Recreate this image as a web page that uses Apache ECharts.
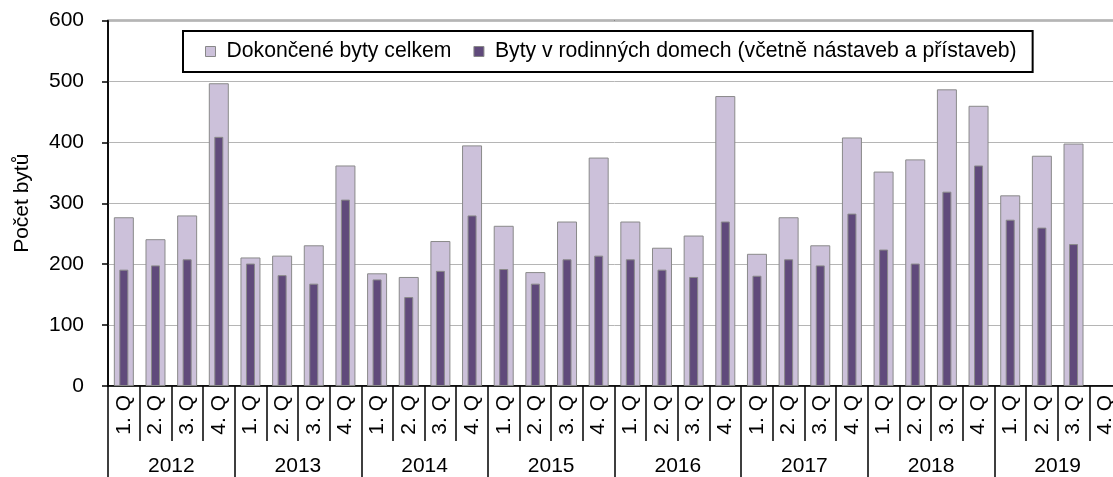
<!DOCTYPE html>
<html>
<head>
<meta charset="utf-8">
<script src="https://cdn.jsdelivr.net/npm/echarts@6/dist/echarts.min.js"></script>
<style>
html,body{margin:0;padding:0;overflow:hidden;background:#fff;}
#c{width:1125px;height:477px;}
</style>
</head>
<body>
<div id="c"></div>
<script>
const years = ['2012','2013','2014','2015','2016','2017','2018','2019'];
const quarters = ['1. Q','2. Q','3. Q','4. Q'];
const totalFlats = [277,241,280,497, 211,214,231,362, 185,179,238,395, 263,187,270,375, 270,227,247,476, 217,277,231,408, 352,372,487,460, 313,378,398, null];
const familyHouseFlats = [191,198,208,409, 201,182,168,306, 175,146,189,280, 192,168,208,214, 208,191,179,270, 181,208,198,283, 224,201,319,362, 273,260,233, null];
const yTicks = [0,100,200,300,400,500,600];

const categories = [];
years.forEach(y => quarters.forEach(q => categories.push(y + ' ' + q)));

const FONT = 'Liberation Sans, Arial, sans-serif';
const FS = 21;
const chart = echarts.init(document.getElementById('c'), null, {renderer:'canvas'});
chart.setOption({
  animation:false,
  backgroundColor:'#fff',
  textStyle:{fontFamily:FONT},
  grid:{left:108, right:4, top:20.5, bottom:91, show:true, borderColor:'#000', borderWidth:1.5, backgroundColor:'transparent'},
  legend:{
    left:183, top:31,
    padding:[10,16,10,22],
    itemGap:22,
    itemWidth:10, itemHeight:10,
    borderColor:'#000', borderWidth:2,
    backgroundColor:'#fff',
    textStyle:{fontFamily:FONT, fontSize:21.2, color:'#000', padding:[0,0,0,6]},
    data:[
      {name:'Dokončené byty celkem', icon:'rect', itemStyle:{color:'#CCC1DA', borderColor:'#888', borderWidth:1}},
      {name:'Byty v rodinných domech (včetně nástaveb a přístaveb)', icon:'rect', itemStyle:{color:'#604A7B', borderColor:'#888', borderWidth:1}}
    ]
  },
  xAxis:[
    {
      type:'category', data:categories, gridIndex:0, position:'bottom',
      axisLine:{show:true, lineStyle:{color:'#000', width:1.5}},
      axisTick:{show:true, length:55, lineStyle:{color:'#000', width:1.5}},
      axisLabel:{rotate:90, margin:9, fontSize:FS, color:'#000', fontFamily:FONT,
        formatter:(v)=>v.split(' ').slice(1).join(' ')},
      splitLine:{show:false}
    },
    {
      type:'category', data:years, gridIndex:0, position:'bottom',
      axisLine:{show:false},
      axisTick:{show:true, length:95, lineStyle:{color:'#000', width:1.5}},
      axisLabel:{margin:70, fontSize:FS, color:'#000', fontFamily:FONT},
      splitLine:{show:false}
    },
    {
      type:'category', data:categories, gridIndex:0, position:'bottom', show:false
    }
  ],
  yAxis:{
    type:'value', min:yTicks[0], max:yTicks[yTicks.length-1], interval:100,
    name:'Počet bytů', nameLocation:'middle', nameGap:75, nameMoveOverlap:false,
    nameTextStyle:{fontSize:FS, color:'#000', fontFamily:FONT},
    axisLine:{show:true, lineStyle:{color:'#000', width:1.5}},
    axisTick:{show:true, length:6, lineStyle:{color:'#000', width:1.5}},
    axisLabel:{margin:24, fontSize:FS, color:'#000', fontFamily:FONT},
    splitLine:{show:true, lineStyle:{color:'#b5b5b5', width:1}}
  },
  series:[
    {
      name:'Dokončené byty celkem', type:'bar', xAxisIndex:0, data:totalFlats,
      barWidth:20,
      itemStyle:{color:'#CCC1DA', borderColor:'#8a8a8a', borderWidth:1}
    },
    {
      name:'Byty v rodinných domech (včetně nástaveb a přístaveb)', type:'bar', xAxisIndex:2, data:familyHouseFlats,
      barWidth:9,
      itemStyle:{color:'#604A7B', borderColor:'#8a8a8a', borderWidth:1}
    }
  ]
});
</script>
</body>
</html>
